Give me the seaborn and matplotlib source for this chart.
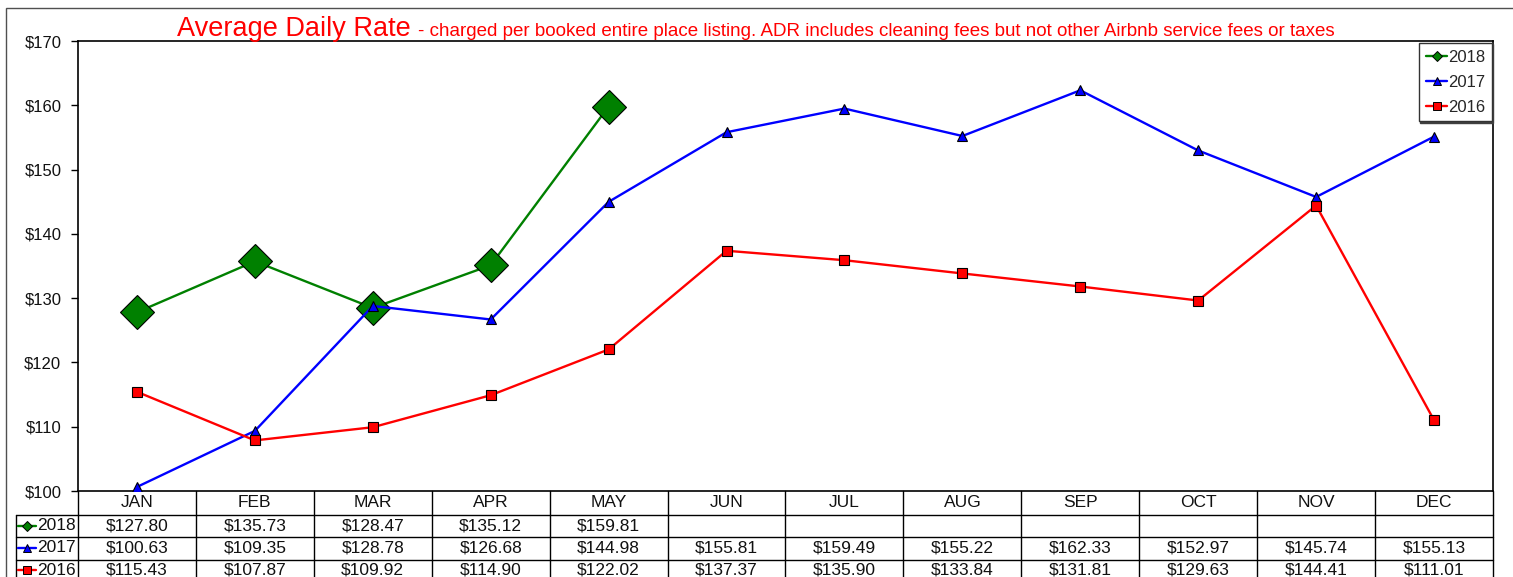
import matplotlib
matplotlib.use("Agg")
import matplotlib.pyplot as plt
import numpy as np
import pandas as pd
import seaborn as sns
from matplotlib.lines import Line2D
from matplotlib.patches import Rectangle

# ---- data ----
months = ["JAN", "FEB", "MAR", "APR", "MAY", "JUN", "JUL", "AUG", "SEP", "OCT", "NOV", "DEC"]
years = ["2018", "2017", "2016"]
adr_2018 = [127.80, 135.73, 128.47, 135.12, 159.81]
adr_2017 = [100.63, 109.35, 128.78, 126.68, 144.98, 155.81, 159.49, 155.22, 162.33, 152.97, 145.74, 155.13]
adr_2016 = [115.43, 107.87, 109.92, 114.90, 122.02, 137.37, 135.90, 133.84, 131.81, 129.63, 144.41, 111.01]
y_ticks = [100, 110, 120, 130, 140, 150, 160, 170]

series = {"2018": adr_2018, "2017": adr_2017, "2016": adr_2016}
rows = []
for yr, vals in series.items():
    for i, v in enumerate(vals):
        rows.append({"year": yr, "month": months[i], "pos": i, "adr": v})
df = pd.DataFrame(rows)

# ---- style ----
sns.set_theme(style="white")
plt.rcParams["font.family"] = ["Liberation Sans", "DejaVu Sans"]

styles = {
    "2018": dict(color="#008000", marker="D", ms=17.0, leg_ms=4.8, z=3),
    "2017": dict(color="#0000FF", marker="^", ms=7.5, leg_ms=6.0, z=4),
    "2016": dict(color="#FF0000", marker="s", ms=6.5, leg_ms=6.0, z=5),
}

W, H = 1513, 577
fig = plt.figure(figsize=(W / 100, H / 100), dpi=100)
fig.patch.set_facecolor("white")

# plot-area box in pixels
L, R, T, B = 78, 1493, 41, 491
COLW = (R - L) / 12.0
ax = fig.add_axes([L / W, 1 - B / H, (R - L) / W, (B - T) / H])

for yr in years:
    st = styles[yr]
    sub = df[df["year"] == yr]
    sns.lineplot(data=sub, x="pos", y="adr", ax=ax, color=st["color"],
                 marker=st["marker"], markersize=st["ms"], markeredgecolor="black",
                 markeredgewidth=0.8, linewidth=1.7, zorder=st["z"], legend=False)

ax.set_xlim(-0.5, 11.5)
ax.set_ylim(100, 170)
ax.set_yticks(y_ticks)
ax.set_yticklabels([f"${v}" for v in y_ticks])
ax.set_xticks([])
ax.set_xlabel("")
ax.set_ylabel("")
ax.tick_params(axis="y", which="major", left=True, direction="out", length=5,
               width=1, pad=7, labelsize=12, labelcolor="#111111", color="black")
for s in ax.spines.values():
    s.set_color("black")
    s.set_linewidth(1.2)
ax.set_facecolor("white")

# legend
handles = [Line2D([], [], color=styles[y]["color"], marker=styles[y]["marker"],
                  markersize=styles[y]["leg_ms"], markeredgecolor="black",
                  markeredgewidth=0.7, linewidth=1.7) for y in years]
leg = ax.legend(handles, years, loc="upper right",
                bbox_to_anchor=(1 - 1 / (R - L), 1 - 2 / (B - T)), borderaxespad=0,
                fontsize=12, handlelength=1.3, handletextpad=0.05, labelspacing=0.6,
                borderpad=0.4, frameon=True, fancybox=False,
                shadow={"ox": 1.0, "oy": -1.0, "facecolor": "#404040",
                        "edgecolor": "#404040", "alpha": 1})
leg.get_frame().set_edgecolor("#333333")
leg.get_frame().set_linewidth(1.0)

# title
fig.text(177 / W, 1 - 36 / H, "Average Daily Rate", color="red", fontsize=19.5, va="baseline")
fig.text(418 / W, 1 - 36 / H,
         "- charged per booked entire place listing. ADR includes cleaning fees but not other Airbnb service fees or taxes",
         color="red", fontsize=13.5, va="baseline")

# ---- data table ----
TL, TB = 16, 582
row_edges = [0, 24, 46.3, 68.6, 91]   # header row is a little taller than data rows
tab = fig.add_axes([TL / W, 1 - TB / H, (R - TL) / W, (TB - B) / H])
x0 = -0.5 - (L - TL) / COLW
tab.set_xlim(x0, 11.5)
tab.set_ylim(row_edges[-1], 0)
tab.axis("off")
TFS = 12.5


def px2x(px):
    return -0.5 + (px - L) / COLW


def row_mid(r):
    return (row_edges[r] + row_edges[r + 1]) / 2 - 0.5


lk = dict(color="black", linewidth=1.0, clip_on=False)
for e in row_edges[1:]:
    tab.plot([x0, 11.5], [e, e], **lk)
for k in range(13):
    tab.plot([-0.5 + k, -0.5 + k], [0, row_edges[-1]], **lk)
tab.plot([x0, x0], [row_edges[1], row_edges[-1]], **lk)

for i, m in enumerate(months):
    tab.text(i, row_mid(0), m, ha="center", va="center", fontsize=TFS, color="#111111")

for r, yr in enumerate(years, start=1):
    vals = series[yr]
    yc = row_mid(r)
    for i, v in enumerate(vals):
        tab.text(i, yc, f"${v:.2f}", ha="center", va="center", fontsize=TFS, color="#111111")
    st = styles[yr]
    tab.plot([px2x(18), px2x(36)], [yc, yc], color=st["color"], linewidth=1.7)
    tab.plot([px2x(27)], [yc], color=st["color"], marker=st["marker"],
             markersize=st["leg_ms"], markeredgecolor="black", markeredgewidth=0.7)
    tab.text(px2x(37), yc, yr, ha="left", va="center", fontsize=TFS, color="#111111")

# outer chart border (continues past the right and bottom edges)
fig.patches.append(Rectangle((6 / W, -1), 2, 2 - 8 / H, transform=fig.transFigure,
                             fill=False, edgecolor="#505050", linewidth=1.0))

fig.savefig("out.png", dpi=100)
